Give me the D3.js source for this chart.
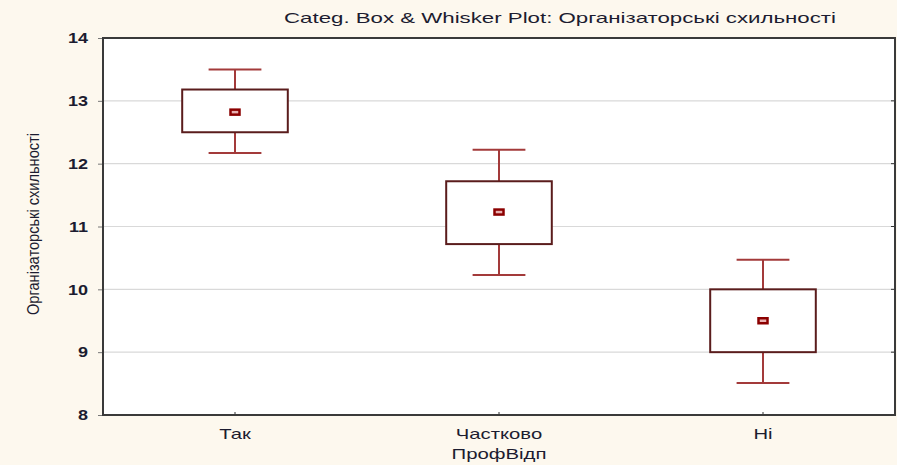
<!DOCTYPE html>
<html>
<head>
<meta charset="utf-8">
<script src="https://cdn.jsdelivr.net/npm/d3@7"></script>
<style>
  body { margin: 0; background: #fdf8ee; }
  svg { display: block; }
  text { font-family: "Liberation Sans", Arial, sans-serif; fill: #1c1c30; }
</style>
</head>
<body>
<div id="chart"></div>
<script>
var categories = ["Так", "Частково", "Ні"];
var whiskLow  = [12.17, 10.23, 8.51];
var boxLow    = [12.5, 10.72, 9.0];
var means     = [12.82, 11.23, 9.5];
var boxHigh   = [13.18, 11.72, 10.0];
var whiskHigh = [13.5, 12.22, 10.47];
var yTicks = [8, 9, 10, 11, 12, 13, 14];

var width = 897, height = 465;
var margin = {top: 38, right: 2, bottom: 50, left: 103};

var svg = d3.select("#chart").append("svg")
  .attr("width", width)
  .attr("height", height);

var x = d3.scaleBand().domain(categories).range([margin.left, width - margin.right]).padding(0);
var y = d3.scaleLinear().domain([8, 14]).range([height - margin.bottom, margin.top]);

// the original text is drawn wide, stretch it horizontally
function stretch(sel, k) {
  sel.each(function() {
    var w = this.getComputedTextLength();
    d3.select(this).attr("textLength", w * k).attr("lengthAdjust", "spacingAndGlyphs");
  });
}

// plot area
svg.append("rect")
  .attr("x", margin.left).attr("y", margin.top)
  .attr("width", width - margin.left - margin.right)
  .attr("height", height - margin.top - margin.bottom)
  .attr("fill", "#ffffff");

// grid
svg.append("g").selectAll("line").data(yTicks.slice(1, -1)).enter().append("line")
  .attr("x1", margin.left).attr("x2", width - margin.right)
  .attr("y1", function(d) { return y(d); }).attr("y2", function(d) { return y(d); })
  .attr("stroke", "#d9d9d9").attr("stroke-width", 1.2);

// y axis
var yAxis = svg.append("g")
  .attr("transform", "translate(" + margin.left + ",0)")
  .call(d3.axisLeft(y).tickValues(yTicks).tickFormat(d3.format("d")).tickSize(5).tickPadding(10));
yAxis.select(".domain").remove();
yAxis.selectAll("line").attr("stroke", "#777");
yAxis.selectAll("text").style("font-size", "15px").style("font-weight", "bold").attr("fill", "#1c1c30");
stretch(yAxis.selectAll("text"), 1.2);

// right ticks
svg.append("g").selectAll("line").data(yTicks.slice(1, -1)).enter().append("line")
  .attr("x1", width - margin.right - 4).attr("x2", width - margin.right)
  .attr("y1", function(d) { return y(d); }).attr("y2", function(d) { return y(d); })
  .attr("stroke", "#333");

// x axis
var xAxis = svg.append("g")
  .attr("transform", "translate(0," + (height - margin.bottom) + ")")
  .call(d3.axisBottom(x).tickSize(3).tickPadding(10));
xAxis.select(".domain").remove();
xAxis.selectAll("line").attr("stroke", "#333").attr("transform", "translate(0,-3)");
xAxis.selectAll("text").style("font-size", "15px").attr("fill", "#1c1c30");
stretch(xAxis.selectAll("text"), 1.35);

// frame
svg.append("rect")
  .attr("x", margin.left).attr("y", margin.top)
  .attr("width", width - margin.left - margin.right)
  .attr("height", height - margin.top - margin.bottom)
  .attr("fill", "none").attr("stroke", "#3a3a3a").attr("stroke-width", 2);

// boxes
var boxW = x.bandwidth() * 0.4;
var capW = boxW * 0.5;
var g = svg.append("g").selectAll("g").data(categories).enter().append("g");

g.append("line")
  .attr("x1", function(d) { return x(d) + x.bandwidth() / 2; })
  .attr("x2", function(d) { return x(d) + x.bandwidth() / 2; })
  .attr("y1", function(d, i) { return y(whiskHigh[i]); })
  .attr("y2", function(d, i) { return y(boxHigh[i]); })
  .attr("stroke", "#a33a3a").attr("stroke-width", 2);
g.append("line")
  .attr("x1", function(d) { return x(d) + x.bandwidth() / 2; })
  .attr("x2", function(d) { return x(d) + x.bandwidth() / 2; })
  .attr("y1", function(d, i) { return y(boxLow[i]); })
  .attr("y2", function(d, i) { return y(whiskLow[i]); })
  .attr("stroke", "#a33a3a").attr("stroke-width", 2);
g.append("line")
  .attr("x1", function(d) { return x(d) + x.bandwidth() / 2 - capW / 2; })
  .attr("x2", function(d) { return x(d) + x.bandwidth() / 2 + capW / 2; })
  .attr("y1", function(d, i) { return y(whiskHigh[i]); })
  .attr("y2", function(d, i) { return y(whiskHigh[i]); })
  .attr("stroke", "#a33a3a").attr("stroke-width", 2);
g.append("line")
  .attr("x1", function(d) { return x(d) + x.bandwidth() / 2 - capW / 2; })
  .attr("x2", function(d) { return x(d) + x.bandwidth() / 2 + capW / 2; })
  .attr("y1", function(d, i) { return y(whiskLow[i]); })
  .attr("y2", function(d, i) { return y(whiskLow[i]); })
  .attr("stroke", "#a33a3a").attr("stroke-width", 2);

g.append("rect")
  .attr("x", function(d) { return x(d) + x.bandwidth() / 2 - boxW / 2; })
  .attr("width", boxW)
  .attr("y", function(d, i) { return y(boxHigh[i]); })
  .attr("height", function(d, i) { return y(boxLow[i]) - y(boxHigh[i]); })
  .attr("fill", "#ffffff").attr("stroke", "#5a1c1c").attr("stroke-width", 2);

g.append("rect")
  .attr("x", function(d) { return x(d) + x.bandwidth() / 2 - 4.5; })
  .attr("y", function(d, i) { return y(means[i]) - 2.5; })
  .attr("width", 9).attr("height", 5)
  .attr("fill", "#e8b0b0").attr("stroke", "#8b0000").attr("stroke-width", 2.5);

// title and labels
svg.append("text")
  .attr("x", 560).attr("y", 23)
  .attr("text-anchor", "middle")
  .style("font-size", "15px")
  .attr("textLength", 552).attr("lengthAdjust", "spacingAndGlyphs")
  .text("Categ. Box & Whisker Plot: Організаторські схильності");

svg.append("text")
  .attr("x", (margin.left + width - margin.right) / 2).attr("y", 459)
  .attr("text-anchor", "middle")
  .style("font-size", "15px")
  .attr("textLength", 95).attr("lengthAdjust", "spacingAndGlyphs")
  .text("ПрофВідп");

svg.append("text")
  .attr("transform", "translate(39,224) rotate(-90)")
  .attr("text-anchor", "middle")
  .style("font-size", "17px")
  .attr("textLength", 182).attr("lengthAdjust", "spacingAndGlyphs")
  .text("Організаторські схильності");
</script>
</body>
</html>
